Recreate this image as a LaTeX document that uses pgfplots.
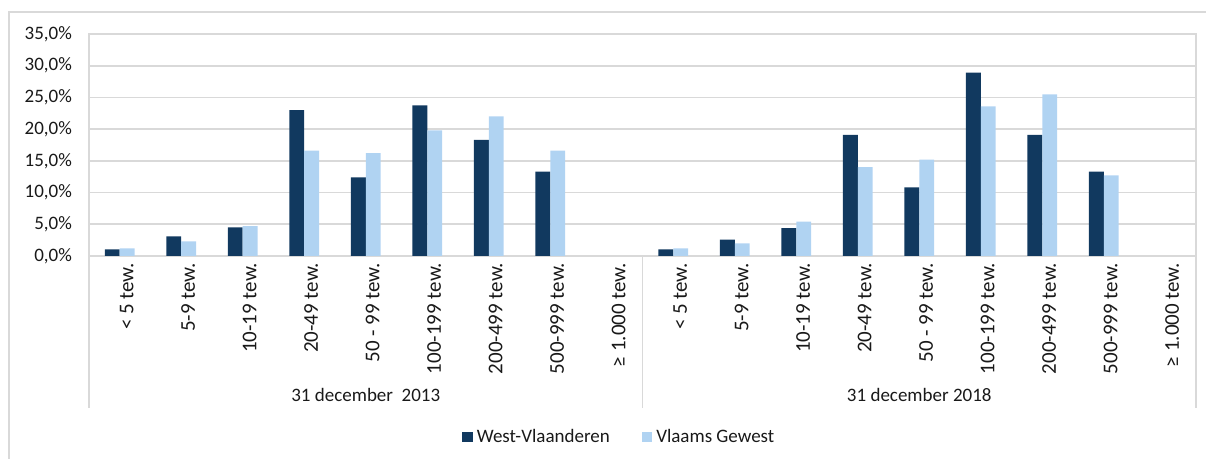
\documentclass[border=0pt]{standalone}
\usepackage{fontspec}
\setmainfont{Carlito}
\usepackage{pgfplots}
\pgfplotsset{compat=1.18}
\definecolor{westvl}{RGB}{17,57,95}
\definecolor{vlaams}{RGB}{176,211,242}
\definecolor{gridgray}{RGB}{217,217,217}

\begin{document}
\begin{tikzpicture}[font=\fontsize{9.5}{10.5}\selectfont]
% page size: 1206 x 459 px at 0.5pt per px, axis origin at px (89,256)
\useasboundingbox (-44.5pt,-101.5pt) rectangle (558.5pt,128pt);
\draw[gridgray,line width=.8pt] (-40pt,-110pt) -- (-40pt,122pt) -- (570pt,122pt);
\begin{axis}[
  at={(0,0)},anchor=south west,scale only axis,
  width=553.5pt,height=111pt,
  ybar=0pt,bar width=0.24,
  xmin=-0.5,xmax=17.5,enlarge x limits=false,
  ymin=0,ymax=35,
  ytick={0,5,...,35},
  yticklabels={{0,0\%},{5,0\%},{10,0\%},{15,0\%},{20,0\%},{25,0\%},{30,0\%},{35,0\%}},
  xtick={0,...,17},
  xticklabels={{< 5 tew.},{5-9 tew.},{10-19 tew.},{20-49 tew.},{50 - 99 tew.},{100-199 tew.},{200-499 tew.},{500-999 tew.},{≥ 1.000 tew.},
               {< 5 tew.},{5-9 tew.},{10-19 tew.},{20-49 tew.},{50 - 99 tew.},{100-199 tew.},{200-499 tew.},{500-999 tew.},{≥ 1.000 tew.}},
  major tick length=0pt,
  xticklabel style={rotate=90,anchor=east,yshift=-3.5pt,text=black!90,
    font=\fontsize{10.5}{11}\selectfont},
  yticklabel style={anchor=east,xshift=-5pt,text=black!90},
  ymajorgrids=true,
  grid style={gridgray,line width=.8pt},
  axis line style={gridgray,line width=.8pt},
  clip=false,
  legend columns=2,
  legend style={at={(0.4800,-0.815)},anchor=center,draw=none,fill=none,
    font=\fontsize{9.5}{10.5}\selectfont,text=black!90,
    /tikz/every even column/.append style={column sep=14pt}},
  legend image code/.code={\fill[#1] (0pt,-2.6pt) rectangle (5.2pt,2.6pt);},
]
% the >= 1.000 tew. class is empty in both years
\addplot[fill=westvl,draw=none] coordinates {
  (0,1.05) (1,3.1) (2,4.5) (3,23.0) (4,12.4) (5,23.75) (6,18.3) (7,13.3)
  (9,1.05) (10,2.6) (11,4.4) (12,19.1) (13,10.8) (14,28.9) (15,19.1) (16,13.3)};
\addplot[fill=vlaams,draw=none] coordinates {
  (0,1.2) (1,2.3) (2,4.7) (3,16.6) (4,16.2) (5,19.8) (6,22.0) (7,16.6)
  (9,1.2) (10,2.0) (11,5.4) (12,14.0) (13,15.2) (14,23.6) (15,25.5) (16,12.7)};
\legend{West-Vlaanderen,Vlaams Gewest}
\draw[gridgray,line width=.8pt] (axis cs:-0.5,0) -- ([yshift=-76pt]axis cs:-0.5,0);
\draw[gridgray,line width=.8pt] (axis cs:8.5,0) -- ([yshift=-76pt]axis cs:8.5,0);
\draw[gridgray,line width=.8pt] (axis cs:17.5,0) -- ([yshift=-76pt]axis cs:17.5,0);
\node[text=black!90] at (axis cs:4,0) [yshift=-69.5pt] {31 december\ \ 2013};
\node[text=black!90] at (axis cs:13,0) [yshift=-69.5pt] {31 december 2018};
\end{axis}
\end{tikzpicture}
\end{document}
